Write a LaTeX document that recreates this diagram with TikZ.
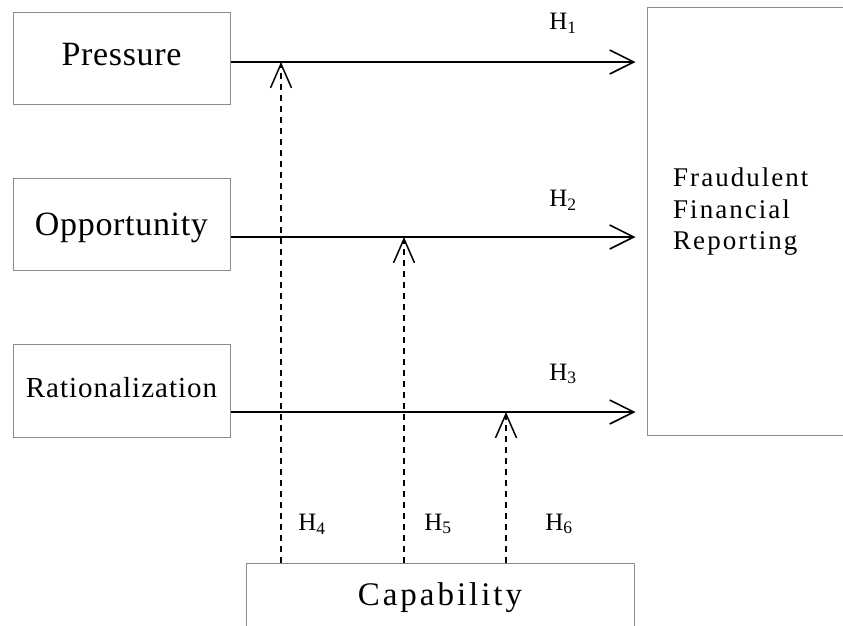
\documentclass[tikz,border=0pt]{standalone}
\usepackage{fontspec}
\setmainfont{Liberation Serif}
\newfontfamily\wideA[LetterSpace=2]{Liberation Serif}
\newfontfamily\wideB[LetterSpace=3.5]{Liberation Serif}
\newfontfamily\wideC[LetterSpace=9]{Liberation Serif}
\newfontfamily\wideD[LetterSpace=7.5]{Liberation Serif}
\usetikzlibrary{arrows.meta}
\begin{document}
\begin{tikzpicture}[x=1pt,y=-1pt,
    box/.style={draw=black!45,line width=1pt,inner sep=0pt,text height=20pt,text depth=6pt},
    hyp/.style={line width=1.8pt,-{Straight Barb[length=24pt,width=24pt,line width=1.6pt]}},
    mod/.style={line width=1.5pt,dash pattern=on 6pt off 5pt,-{Straight Barb[length=24pt,width=21pt,line width=1.5pt]}},
    hlab/.style={font=\fontsize{25}{25}\selectfont,inner sep=0pt}]
    \clip (0,0) rectangle (843,625);
    \fill[white] (0,0) rectangle (843,625);

    \node[box,minimum width=217pt,minimum height=92pt,font=\wideA\fontsize{34}{34}\selectfont] (pres) at (121.5,58) {Pressure};
    \node[box,minimum width=217pt,minimum height=92pt,text height=24pt,text depth=2pt,font=\wideA\fontsize{34}{34}\selectfont] (opp) at (121.5,224) {Opportunity};
    \node[box,minimum width=217pt,minimum height=93pt,font=\wideB\fontsize{29}{29}\selectfont] (rat) at (121.5,390.5) {Rationalization};
    \node[box,minimum width=213pt,minimum height=428pt] (ffr) at (753.5,221) {};
    \node[font=\wideD\fontsize{27}{31.5}\selectfont,align=left,anchor=north west,inner sep=0pt] (ffrtext) at (673,168) {Fraudulent\\Financial\\Reporting};
    \node[box,minimum width=388pt,minimum height=70pt,font=\wideC\fontsize{33}{33}\selectfont] (cap) at (440,598) {Capability};

    \coordinate (y1) at (0,62);
    \coordinate (y2) at (0,237);
    \coordinate (y3) at (0,412);
    \coordinate (m1) at (281,62);
    \coordinate (m2) at (404,237);
    \coordinate (m3) at (506,412);

    \draw[hyp,shorten >=11pt] (pres.east |- y1) to (ffr.west |- y1);
    \draw[hyp,shorten >=11pt] (opp.east |- y2) to (ffr.west |- y2);
    \draw[hyp,shorten >=11pt] (rat.east |- y3) to (ffr.west |- y3);

    \draw[mod] (cap.north -| m1) to (m1);
    \draw[mod] (cap.north -| m2) to (m2);
    \draw[mod] (cap.north -| m3) to (m3);

    \node[hlab] (h1) at (563,23) {H\textsubscript{1}};
    \node[hlab] (h2) at (563,200) {H\textsubscript{2}};
    \node[hlab] (h3) at (563,374) {H\textsubscript{3}};
    \node[hlab] (h4) at (312,524) {H\textsubscript{4}};
    \node[hlab] (h5) at (438,524) {H\textsubscript{5}};
    \node[hlab] (h6) at (559,524) {H\textsubscript{6}};
\end{tikzpicture}
\end{document}
